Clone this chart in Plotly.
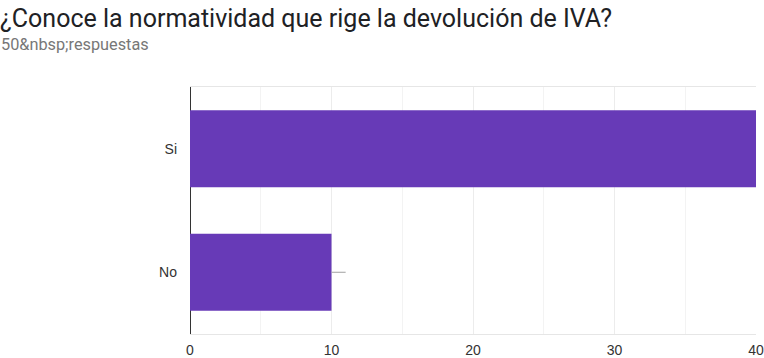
import plotly.graph_objects as go

categories = ["Si", "No"]
values = [40, 10]
label_line = [1, 1]
title_text = "¿Conoce la normatividad que rige la devolución de IVA?"
subtitle_text = "50&amp;nbsp;respuestas"
x_ticks = [0, 10, 20, 30, 40]

fig = go.Figure()
fig.add_trace(go.Bar(
    y=categories, x=values, orientation="h",
    marker=dict(color="#673ab7", line=dict(width=0)),
    error_x=dict(type="data", symmetric=False, array=label_line,
                 arrayminus=[0, 0], color="#a0a0a0", thickness=1, width=0),
    hoverinfo="skip",
))

W, H = 764, 358
L, R, T, B = 190, 8, 87, 24
fig.update_layout(
    width=W, height=H,
    margin=dict(l=L, r=R, t=T, b=B, autoexpand=False),
    plot_bgcolor="white", paper_bgcolor="white",
    bargap=0.375,
    showlegend=False,
    title=dict(text=title_text, xref="container", yref="container",
               x=0, xanchor="left", y=1 - 18 / H, yanchor="middle",
               font=dict(family="Roboto", size=25, color="#202124"), pad=dict(l=0, r=0, t=0, b=0)),
    annotations=[dict(text=subtitle_text, xref="paper", yref="paper",
                      x=-L / (W - L - R), y=1 + (87 - 45) / (H - T - B),
                      xanchor="left", yanchor="middle", showarrow=False,
                      xshift=-1,
                      font=dict(family="Roboto", size=16.3, color="#777777"))],
)
fig.update_xaxes(
    range=[0, 40], tickvals=x_ticks, ticktext=[str(v) for v in x_ticks],
    showgrid=True, gridcolor="#ececec", gridwidth=1,
    minor=dict(dtick=5, showgrid=True, gridcolor="#f3f3f3"),
    zeroline=True, zerolinecolor="#333333", zerolinewidth=1,
    showline=True, mirror=True, linecolor="#e6e6e6", linewidth=1,
    ticks="", ticklabelstandoff=3,
    tickfont=dict(family="Liberation Sans, Arial", size=14, color="#333333"),
    automargin=False, fixedrange=True,
)
fig.update_yaxes(
    categoryorder="array", categoryarray=categories[::-1],
    showgrid=False, zeroline=False, showline=False, ticks="",
    ticklabelstandoff=12,
    tickfont=dict(family="Liberation Sans, Arial", size=14, color="#333333"),
    automargin=False, fixedrange=True,
)

fig.write_html("out.html", config={"displayModeBar": False},
               post_script="document.body.style.margin='0';document.body.style.overflow='hidden';")
